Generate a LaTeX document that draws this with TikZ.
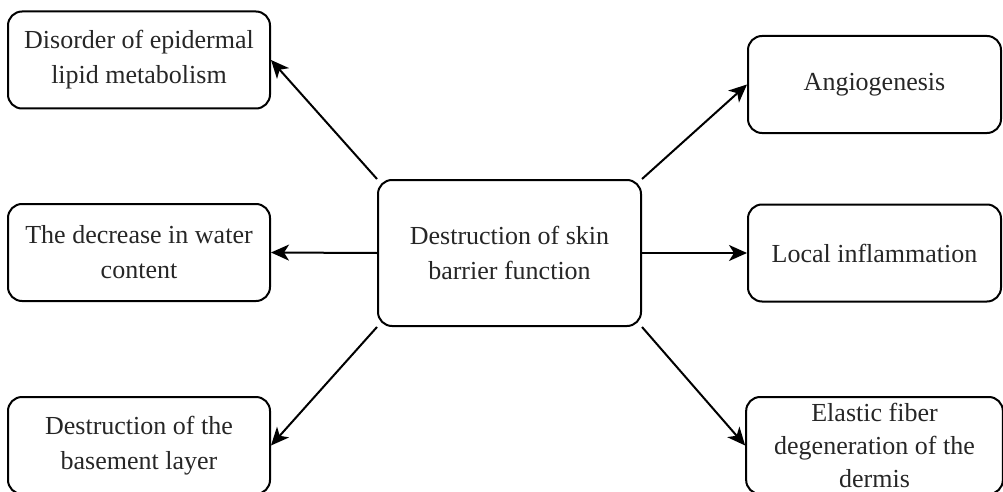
\documentclass[tikz,border=0pt]{standalone}
\usepackage{fontspec}
\setmainfont{Liberation Serif}
\usetikzlibrary{arrows.meta,positioning}

\tikzset{
    effect/.style={draw, line width=2pt, rounded corners=14pt, align=center,
        minimum width=262pt, minimum height=97pt, text=black!85,
        font=\fontsize{26}{35}\selectfont},
    cause/.style={effect, minimum width=263pt, minimum height=146pt},
    link/.style={line width=2pt, -{Stealth[length=18pt, width=16pt, inset=5pt]}}
}

\begin{document}
\begin{tikzpicture}[x=1pt, y=-1pt]
            \useasboundingbox (0,0) rectangle (1003,492);
            \clip (0,0) rectangle (1003,492);
            \node[cause] (skin) at (509.5,253) {Destruction of skin\\barrier function};
            % left side
            \node[effect] (lipid) at (139,60) {Disorder of epidermal\\lipid metabolism};
            \node[effect] (water) at (139,252.5) {The decrease in water\\content};
            \node[effect] (basement) at (139,445.5) {Destruction of the\\basement layer};
            % right side
            \node[effect, minimum width=253pt] (angio) at (874.5,84.5) {Angiogenesis};
            \node[effect, minimum width=253pt] (inflam) at (874.5,253) {Local inflammation};
            \node[effect, minimum width=253pt, font=\fontsize{26}{33}\selectfont] (elastic) at (874.5,445.5)
                {\raisebox{8pt}{\parbox{250pt}{\centering Elastic fiber\\degeneration of the\\dermis}}};
            \draw[link] (skin.north west) -- (lipid.east);
            \draw[link] (skin.west) -- (water.east);
            \draw[link] (skin.south west) -- (basement.east);
            \draw[link] (skin.north east) -- (angio.west);
            \draw[link] (skin.east) -- (inflam.west);
            \draw[link] (skin.south east) -- (elastic.west);
        \end{tikzpicture}
\end{document}
